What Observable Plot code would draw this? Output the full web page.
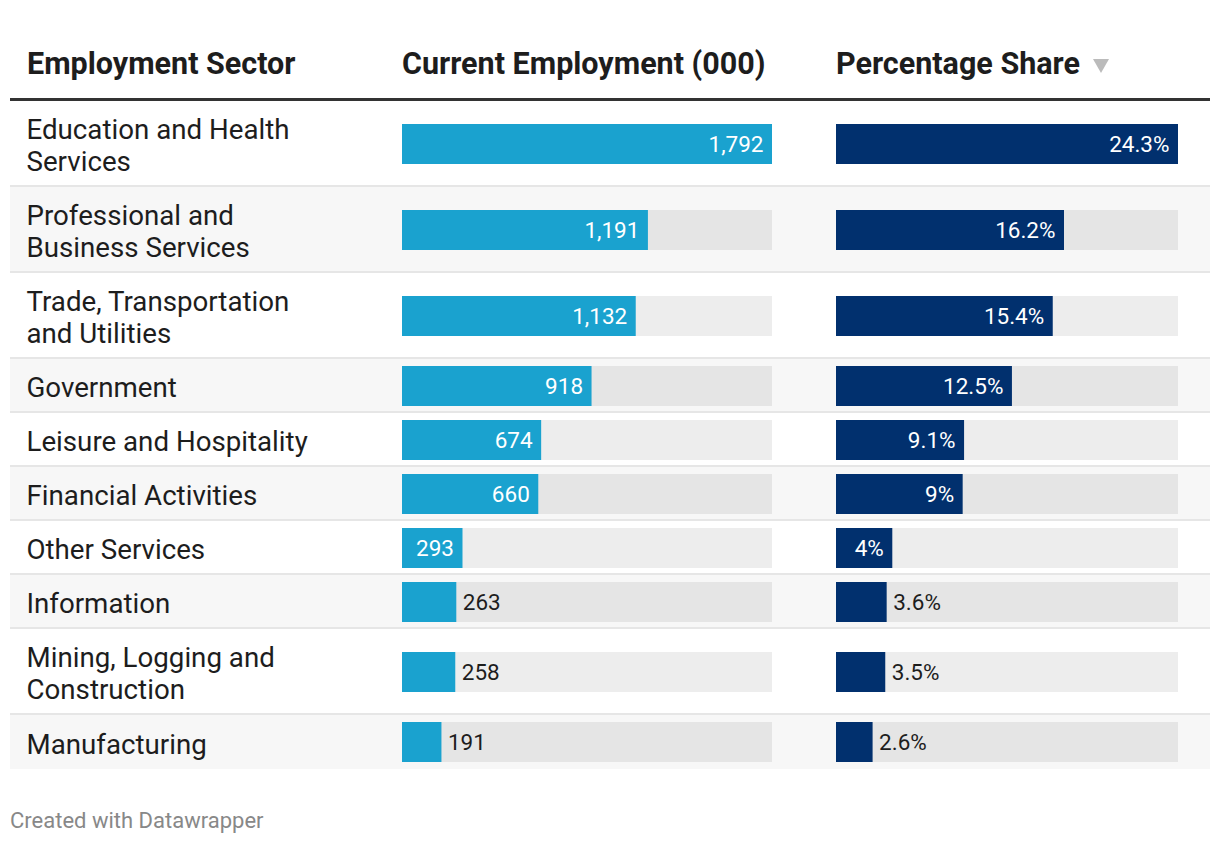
<!DOCTYPE html>
<html>
<head>
<meta charset="utf-8">
<script src="https://cdn.jsdelivr.net/npm/d3@7"></script>
<script src="https://cdn.jsdelivr.net/npm/@observablehq/plot@0.6"></script>
<style>
  html, body { margin: 0; padding: 0; background: #fff; }
  body { width: 1220px; height: 844px; position: relative; font-family: Roboto, sans-serif; color: #1d1d1d; }
  #header { position: absolute; left: 10px; top: 0; width: 1200px; height: 98px; }
  .hd { position: absolute; top: 44px; font-weight: 700; font-size: 30.5px; line-height: 40px; white-space: nowrap; color: #1d1d1d; }
  .arrow { display: inline-block; width: 0; height: 0; border-left: 8px solid transparent; border-right: 8px solid transparent; border-top: 14px solid #bbbbbb; margin-left: 13px; vertical-align: 1px; }
  #rule { position: absolute; left: 10px; top: 98px; width: 1200px; height: 3px; background: #333; }
  #rows { position: absolute; left: 10px; top: 101px; width: 1200px; }
  .row { position: absolute; left: 0; width: 1200px; box-sizing: border-box; }
  .row.alt { background: #f7f7f7; }
  .row.sep { border-bottom: 2px solid #e6e6e6; }
  .lbl { position: absolute; left: 16.5px; top: 2.5px; bottom: -2.5px; display: flex; align-items: center; font-size: 27.7px; line-height: 32px; white-space: pre; color: #1d1d1d; }
  #footer { position: absolute; left: 10px; top: 806px; font-size: 22px; line-height: 30px; color: #888; }
</style>
</head>
<body>
<div id="header"></div>
<div id="rule"></div>
<div id="rows"></div>
<div id="footer">Created with Datawrapper</div>
<script>
// ---- data ----
const headers = ["Employment Sector", "Current Employment (000)", "Percentage Share"];
const sectors = [
  "Education and Health\nServices",
  "Professional and\nBusiness Services",
  "Trade, Transportation\nand Utilities",
  "Government",
  "Leisure and Hospitality",
  "Financial Activities",
  "Other Services",
  "Information",
  "Mining, Logging and\nConstruction",
  "Manufacturing"
];
const employment = [1792, 1191, 1132, 918, 674, 660, 293, 263, 258, 191];
const share = [24.3, 16.2, 15.4, 12.5, 9.1, 9, 4, 3.6, 3.5, 2.6];

// ---- layout ----
const ROW1 = 54, ROW2 = 86, BAR_H = 40;
let acc = 0;
const rows = sectors.map((s, i) => {
  const lines = s.split("\n").length;
  const h = lines > 1 ? ROW2 : ROW1;
  const r = {i, sector: s, emp: employment[i], pct: share[i], top: acc, h, mid: acc + h / 2};
  acc += h;
  return r;
});
const totalH = acc;

// header
const header = document.getElementById("header");
const headerX = [17, 392, 826];
headers.forEach((t, k) => {
  const d = document.createElement("div");
  d.className = "hd";
  d.style.left = headerX[k] + "px";
  d.textContent = t;
  if (k === 2) { const a = document.createElement("span"); a.className = "arrow"; d.appendChild(a); }
  header.appendChild(d);
});

// rows (backgrounds, separators, sector labels)
const rowsDiv = document.getElementById("rows");
rows.forEach((r, i) => {
  const d = document.createElement("div");
  d.className = "row" + (i % 2 === 1 ? " alt" : "") + (i < rows.length - 1 ? " sep" : "");
  d.style.top = r.top + "px";
  d.style.height = r.h + "px";
  const l = document.createElement("div");
  l.className = "lbl";
  l.textContent = r.sector;
  d.appendChild(l);
  rowsDiv.appendChild(d);
});

// bar columns drawn with Plot
function barColumn(key, color, width, left, fmt) {
  const max = d3.max(rows, d => d[key]);
  const inside = rows.filter(d => d[key] / max > 0.155);
  const outside = rows.filter(d => d[key] / max <= 0.155);
  const chart = Plot.plot({
    width, height: totalH,
    marginTop: 0, marginRight: 0, marginBottom: 0, marginLeft: 0,
    x: {domain: [0, max], range: [0, width], axis: null},
    y: {domain: [0, totalH], range: [0, totalH], axis: null},
    style: {background: "transparent", fontFamily: "Roboto, sans-serif", fontSize: "22.5px", overflow: "visible"},
    marks: [
      Plot.rect(rows, {x1: 0, x2: max, y1: d => d.mid - BAR_H / 2, y2: d => d.mid + BAR_H / 2, fill: "#000", fillOpacity: 0.07}),
      Plot.rect(rows, {x1: 0, x2: key, y1: d => d.mid - BAR_H / 2, y2: d => d.mid + BAR_H / 2, fill: color}),
      Plot.text(inside, {x: key, y: "mid", text: d => fmt(d[key]), textAnchor: "end", dx: -9, fill: "#fff", fontSize: 22.5}),
      Plot.text(outside, {x: key, y: "mid", text: d => fmt(d[key]), textAnchor: "start", dx: 6, fill: "#1d1d1d", fontSize: 22.5})
    ]
  });
  chart.style.position = "absolute";
  chart.style.left = left + "px";
  chart.style.top = "101px";
  chart.style.maxWidth = "none";
  document.body.appendChild(chart);
}
barColumn("emp", "#1aa2cf", 370, 402, d3.format(","));
barColumn("pct", "#01306e", 342, 836, v => v + "%");
</script>
</body>
</html>
